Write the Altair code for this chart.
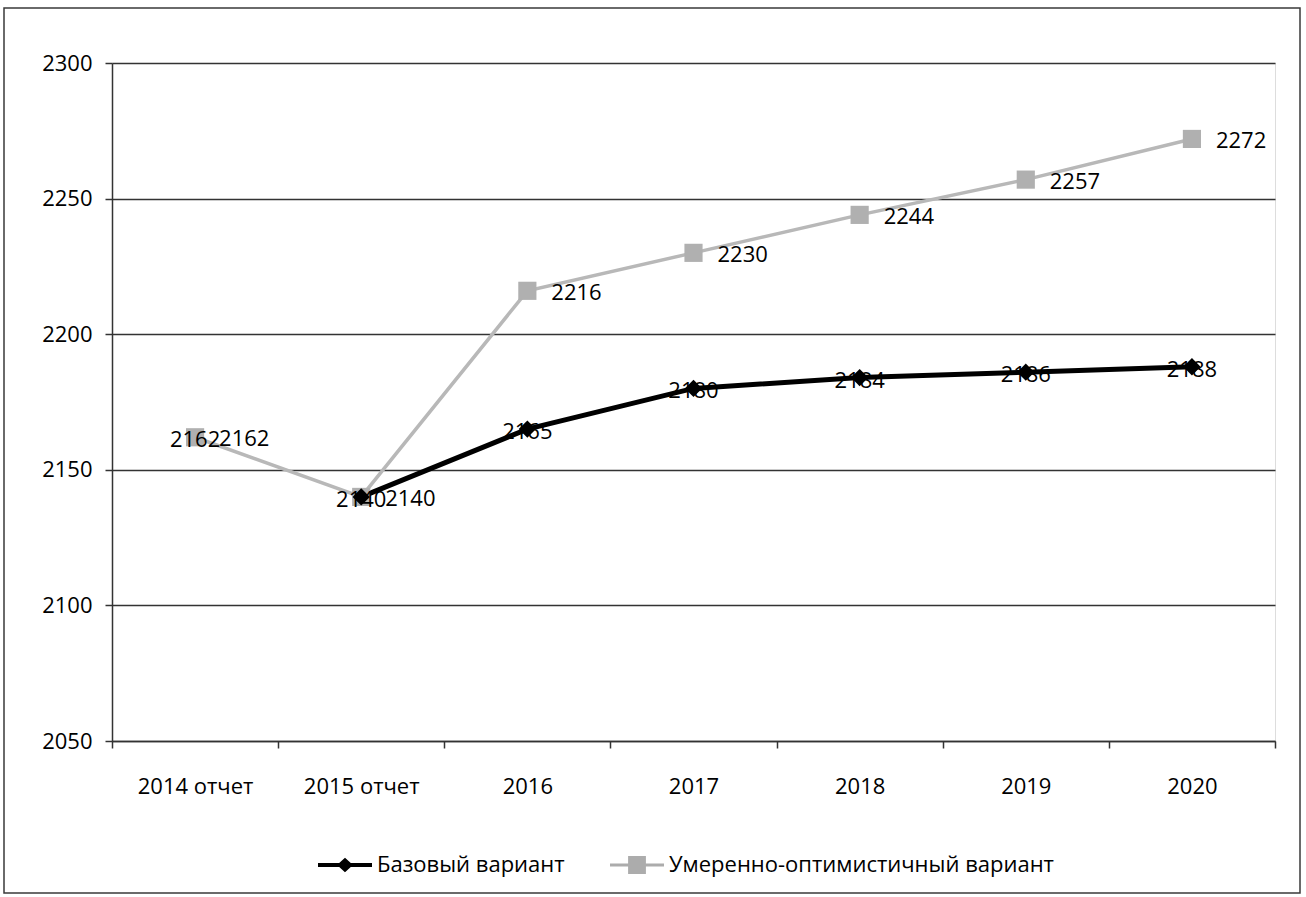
import altair as alt
import pandas as pd

# Population forecast, two scenarios
categories = ["2014 отчет", "2015 отчет", "2016", "2017", "2018", "2019", "2020"]
base_values = [2162, 2140, 2165, 2180, 2184, 2186, 2188]
optimistic_values = [2162, 2140, 2216, 2230, 2244, 2257, 2272]
# the base line and its markers start from the 2015 report year
base_drawn = [False, True, True, True, True, True, True]
optimistic_drawn = [True, True, True, True, True, True, True]

series_names = ["Базовый вариант", "Умеренно-оптимистичный вариант"]
series_colors = ["#000000", "#acacac"]
y_ticks = [2050, 2100, 2150, 2200, 2250, 2300]

FONT = "Open Sans"
W, H = 1163, 678
PAD_L, PAD_T = 112, 63

base_df = pd.DataFrame({"cat": categories, "value": base_values,
                        "drawn": base_drawn, "series": series_names[0]})
opt_df = pd.DataFrame({"cat": categories, "value": optimistic_values,
                       "drawn": optimistic_drawn, "series": series_names[1]})

x_enc = alt.X("cat:N", sort=categories,
              scale=alt.Scale(type="band", domain=categories, paddingInner=0, paddingOuter=0),
              axis=alt.Axis(title=None, tickBand="extent", labelAngle=0, labelFont=FONT,
                            labelFontSize=22, labelColor="#000000", labelPadding=28,
                            tickSize=7, tickColor="#333333", tickWidth=1.5,
                            domainColor="#333333", domainWidth=1.5, grid=False))
y_enc = alt.Y("value:Q",
              scale=alt.Scale(domain=[2050, 2300], nice=False, zero=False),
              axis=alt.Axis(title=None, values=y_ticks, format="d", labelFont=FONT,
                            labelFontSize=22, labelColor="#000000", labelPadding=13,
                            tickSize=7, tickColor="#333333", tickWidth=1.5, grid=True,
                            gridColor="#333333", gridWidth=1.3, domainColor="#333333",
                            domainWidth=1.5))

# plain channels for the layers that reuse the same scales
y_plain = alt.Y("value:Q")
x_plain = alt.X("cat:N", sort=categories)

# outer frame of the figure
frame = alt.Chart(pd.DataFrame({"k": [0]})).mark_rect(
    fill="transparent", stroke="#3a3a3a", strokeWidth=1.5
).encode(x=alt.value(-108), x2=alt.value(1188), y=alt.value(-55), y2=alt.value(830))

drawn_filter = alt.datum.drawn == True

opt_line = alt.Chart(opt_df).transform_filter(drawn_filter).mark_line(
    color="#b8b8b8", strokeWidth=3.5
).encode(x=x_enc, y=y_enc)

base_line = alt.Chart(base_df).transform_filter(drawn_filter).mark_line(
    color="#000000", strokeWidth=5
).encode(x=x_plain, y=y_plain)

opt_points = alt.Chart(opt_df).transform_filter(drawn_filter).mark_point(
    shape="square", filled=True, size=330, color="#b0b0b0", opacity=1
).encode(x=x_plain, y=y_plain)

base_points = alt.Chart(base_df).transform_filter(drawn_filter).mark_point(
    shape="diamond", filled=True, size=300, color="#000000", opacity=1
).encode(x=x_plain, y=y_plain)

base_labels = alt.Chart(base_df).mark_text(
    font=FONT, fontSize=22, color="#000000", align="center", baseline="middle", dy=3
).encode(x=x_plain, y=y_plain, text=alt.Text("value:Q", format="d"))

opt_labels = alt.Chart(opt_df).mark_text(
    font=FONT, fontSize=22, color="#000000", align="left", baseline="middle", dx=24, dy=2
).encode(x=x_plain, y=y_plain, text=alt.Text("value:Q", format="d"))

# legend: line-with-marker symbols as custom paths
base_symbol = ("M-1,-0.074L-0.215,-0.074L0,-0.27L0.215,-0.074L1,-0.074L1,0.074"
               "L0.215,0.074L0,0.27L-0.215,0.074L-1,0.074Z")
opt_symbol = ("M-1,-0.055L-0.33,-0.055L-0.33,-0.33L0.33,-0.33L0.33,-0.055L1,-0.055"
              "L1,0.055L0.33,0.055L0.33,0.33L-0.33,0.33L-0.33,0.055L-1,0.055Z")

legend = alt.Legend(title=None, orient="none", legendX=206, legendY=775,
                    direction="horizontal", columns=2, columnPadding=45,
                    labelFont=FONT, labelFontSize=22, labelColor="#000000",
                    labelLimit=800, labelOffset=5, symbolSize=2916,
                    symbolStrokeWidth=0, symbolOpacity=1)

legend_layer = alt.Chart(pd.concat([base_df, opt_df])).transform_filter(
    "false"
).mark_point(filled=True, opacity=1).encode(
    x=x_plain, y=y_plain,
    color=alt.Color("series:N", sort=series_names,
                    scale=alt.Scale(domain=series_names, range=series_colors),
                    legend=legend),
    shape=alt.Shape("series:N", sort=series_names,
                    scale=alt.Scale(domain=series_names, range=[base_symbol, opt_symbol]),
                    legend=legend),
)

chart = alt.layer(
    frame, opt_line, base_line, opt_points, base_points, base_labels, opt_labels, legend_layer
).properties(
    width=W, height=H,
    autosize=alt.AutoSizeParams(type="none"),
    padding={"left": PAD_L, "top": PAD_T, "right": 1306 - PAD_L - W, "bottom": 897 - PAD_T - H},
    background="#ffffff",
).configure_view(stroke=None).configure(font=FONT)

chart.save("out.html", embed_options={"renderer": "svg", "actions": False})
